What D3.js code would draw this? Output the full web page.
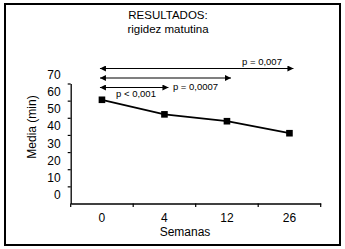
<!DOCTYPE html>
<html>
<head>
<meta charset="utf-8">
<script src="https://cdn.jsdelivr.net/npm/d3@7"></script>
<style>
  body { margin: 0; background: #fff; }
  text { font-family: "Liberation Sans", Arial, sans-serif; fill: #000; }
</style>
</head>
<body>
<div id="chart"></div>
<script>
// data
var weeks = ["0", "4", "12", "26"];
var means = [60.5, 52, 48, 41];
var yTicks = [0, 10, 20, 30, 40, 50, 60, 70];
var compTo = ["26", "12", "4"];
var compLabels = ["p = 0,007", "p = 0,0007", "p < 0,001"];

var W = 345, H = 249;

var svg = d3.select("#chart")
  .append("svg")
    .attr("width", W)
    .attr("height", H);

// frame
svg.append("rect")
  .attr("x", 5).attr("y", 4)
  .attr("width", 335).attr("height", 241)
  .attr("fill", "none")
  .attr("stroke", "#000")
  .attr("stroke-width", 2);

// title
svg.append("text")
  .attr("x", 168).attr("y", 19)
  .attr("text-anchor", "middle")
  .style("font-size", "11.5px")
  .text("RESULTADOS:");
svg.append("text")
  .attr("x", 168).attr("y", 33)
  .attr("text-anchor", "middle")
  .style("font-size", "11.5px")
  .text("rigidez matutina");

// scales
var x = d3.scaleBand()
  .domain(weeks)
  .range([70.7, 320.7])
  .padding(0);

var y = d3.scaleLinear()
  .domain([0, 70])
  .range([203.5, 83.5]);

// y axis (labels sit above their ticks, as in the original)
var yAxis = svg.append("g")
  .attr("transform", "translate(70.7,0)")
  .call(d3.axisLeft(y).tickValues(yTicks).tickSize(3).tickSizeOuter(0).tickPadding(7));
yAxis.select(".domain").attr("stroke-width", 1.3);
yAxis.selectAll(".tick line").attr("stroke-width", 1.2)
  .filter(function(d) { return d === 0; }).remove();
yAxis.selectAll(".tick text")
  .attr("dy", "-0.42em")
  .style("font-size", "12px")
  .style("font-family", "Liberation Sans, Arial, sans-serif");

// x axis
var xAxis = svg.append("g")
  .attr("transform", "translate(0," + y(0) + ")")
  .call(d3.axisBottom(x).tickSize(0).tickSizeOuter(0).tickPadding(10));
xAxis.select(".domain").attr("stroke-width", 1.3);
xAxis.selectAll(".tick text")
  .style("font-size", "12px")
  .style("font-family", "Liberation Sans, Arial, sans-serif");

// x ticks at band edges
var edges = weeks.map(function(d) { return x(d); }).concat([x.range()[1]]);
xAxis.selectAll(".edge")
  .data(edges)
  .enter().append("line")
    .attr("class", "edge")
    .attr("x1", function(d) { return d; })
    .attr("x2", function(d) { return d; })
    .attr("y1", 0).attr("y2", 3.5)
    .attr("stroke", "#000")
    .attr("stroke-width", 1.2);

// axis titles
svg.append("text")
  .attr("transform", "translate(36," + 127 + ") rotate(-90)")
  .attr("text-anchor", "middle")
  .style("font-size", "12px")
  .text("Media (min)");

svg.append("text")
  .attr("x", 185).attr("y", 236)
  .attr("text-anchor", "middle")
  .style("font-size", "12px")
  .text("Semanas");

// line + markers
var cx = function(i) { return x(weeks[i]) + x.bandwidth() / 2; };

svg.append("path")
  .datum(means)
  .attr("fill", "none")
  .attr("stroke", "#000")
  .attr("stroke-width", 1.8)
  .attr("d", d3.line()
    .x(function(d, i) { return cx(i); })
    .y(function(d) { return y(d); }));

svg.selectAll(".pt")
  .data(means)
  .enter().append("rect")
    .attr("class", "pt")
    .attr("x", function(d, i) { return cx(i) - 3.3; })
    .attr("y", function(d) { return y(d) - 3.3; })
    .attr("width", 6.6)
    .attr("height", 6.6)
    .attr("fill", "#000");

// comparison arrows
var defs = svg.append("defs");
defs.append("marker")
  .attr("id", "head")
  .attr("viewBox", "0 0 6 6")
  .attr("refX", 6).attr("refY", 3)
  .attr("markerWidth", 6).attr("markerHeight", 6)
  .attr("markerUnits", "userSpaceOnUse")
  .attr("orient", "auto-start-reverse")
  .append("path")
    .attr("d", "M0,0 L6,3 L0,6 Z")
    .attr("fill", "#000");

var arrowY = [68.5, 78, 87.5];
var labelPos = [
  {dx: 262, dy: 64.5},
  {dx: 195.5, dy: 89.5},
  {dx: 136, dy: 97}
];

compTo.forEach(function(w, i) {
  var x0 = cx(0) - 2;
  var x1 = x(w) + x.bandwidth() / 2 + 4;
  svg.append("line")
    .attr("x1", x0).attr("x2", x1)
    .attr("y1", arrowY[i]).attr("y2", arrowY[i])
    .attr("stroke", "#000")
    .attr("stroke-width", 1.2)
    .attr("marker-start", "url(#head)")
    .attr("marker-end", "url(#head)");
  svg.append("text")
    .attr("x", labelPos[i].dx).attr("y", labelPos[i].dy)
    .attr("text-anchor", "middle")
    .style("font-size", "9.5px")
    .text(compLabels[i]);
});
</script>
</body>
</html>
